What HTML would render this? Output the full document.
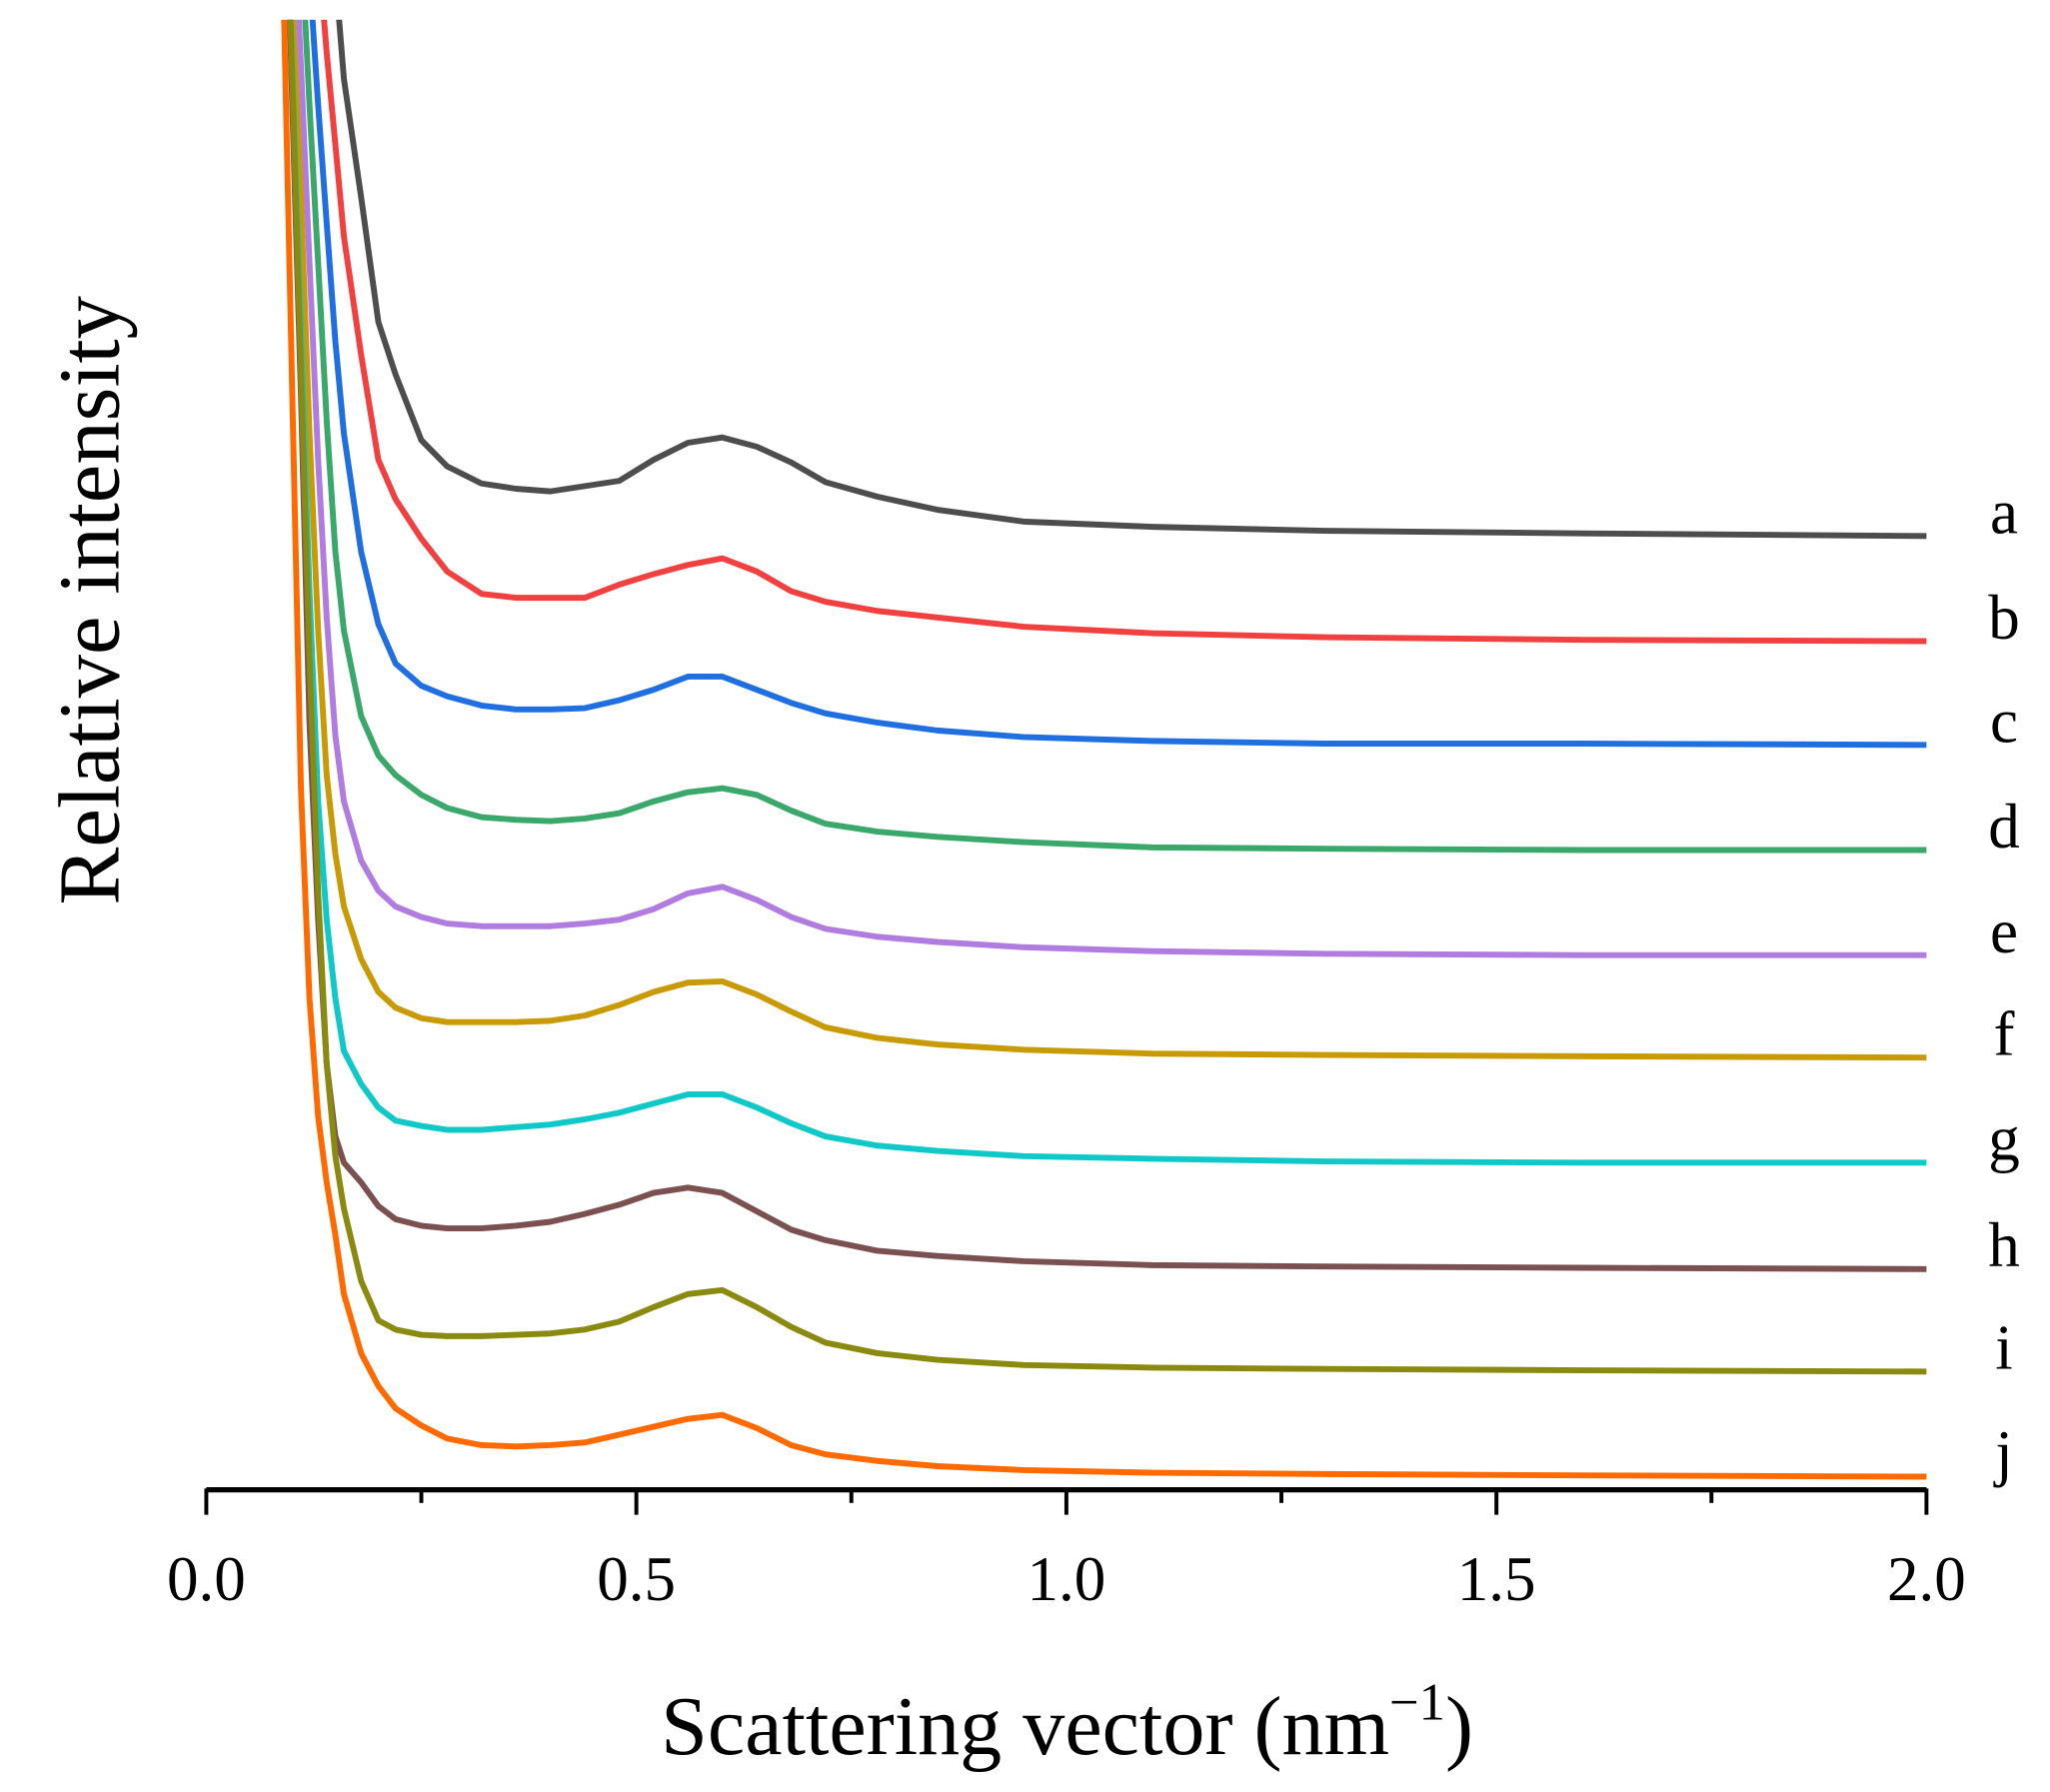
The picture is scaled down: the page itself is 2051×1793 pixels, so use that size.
<!DOCTYPE html>
<html><head><meta charset="utf-8"><style>
html,body{margin:0;padding:0;background:#fff;}
svg{display:block;font-family:"Liberation Serif",serif;}
</style></head><body>
<svg id="chart" width="2051" height="1793" viewBox="0 0 1560 1364" preserveAspectRatio="none" xmlns="http://www.w3.org/2000/svg">
<defs><clipPath id="plotclip"><rect x="150" y="15" width="1330" height="1125"/></clipPath></defs>
<g id="curves" clip-path="url(#plotclip)"></g>
<g id="axis"></g>
<g id="labels"></g>
<text x="812" y="1335" font-size="64" text-anchor="middle">Scattering vector (nm<tspan dy="-26" font-size="40">−1</tspan><tspan dy="26">)</tspan></text>
<text transform="translate(90,457) rotate(-90)" font-size="66" text-anchor="middle">Relative intensity</text>
</svg>
<script>
const q = [0.09,0.10,0.11,0.12,0.13,0.14,0.15,0.16,0.18,0.20,0.22,0.25,0.28,0.32,0.36,0.40,0.44,0.48,0.52,0.56,0.60,0.64,0.68,0.72,0.78,0.85,0.95,1.1,1.3,1.6,2.0];
const seriesNames = ["a","b","c","d","e","f","g","h","i","j"];
const seriesColors = ["#4d4d4d","#f04040","#1f6fe0","#3aa86a","#b07ce0","#c89a05","#10c8c8","#7a5050","#8a8a10","#ff6a00"];
const sA = [1333,1333,1333,1333,1333,1233,1153,1073,983,888,848,798,778,765,761,759,763,767,783,796,800,793,781,766,755,745,736,732,729,727,725];
const sB = [1333,1333,1333,1333,1173,1093,1023,953,863,783,753,723,698,681,678,678,678,688,696,703,708,698,683,675,668,663,656,651,648,646,645];
const sC = [1333,1333,1333,1153,1053,963,873,803,713,658,628,611,603,596,593,593,594,600,608,618,618,608,598,590,583,577,572,569,567,567,566];
const sD = [1333,1333,1183,1053,933,813,713,653,588,558,543,528,518,511,509,508,510,514,523,530,533,528,516,506,500,496,492,488,487,486,486];
const sE = [1333,1233,1083,933,783,663,573,523,478,455,443,435,430,428,428,428,430,433,441,453,458,448,435,426,420,416,412,409,407,406,406];
const sF = [1283,1133,983,803,653,543,483,443,403,378,366,358,355,355,355,356,360,368,378,385,386,376,363,351,343,338,334,331,330,329,328];
const sG = [1283,1083,883,683,523,433,373,333,308,290,280,276,273,273,275,277,281,286,293,300,300,290,278,268,261,257,253,251,249,248,248];
const sH = [1283,1053,833,583,433,323,268,248,233,215,205,200,198,198,200,203,209,216,225,229,225,211,197,189,181,177,173,170,169,168,167];
const sI = [1283,1073,853,633,453,323,253,213,158,128,121,117,116,116,117,118,121,127,138,148,151,138,123,111,103,98,94,92,91,90,89];
const sJ = [1133,833,533,373,283,233,193,148,103,78,61,48,38,33,32,33,35,41,47,53,56,46,33,26,21,17,14,12,11,10,9];
const allSeries = [sA,sB,sC,sD,sE,sF,sG,sH,sI,sJ];
const xTicks = [0.0,0.5,1.0,1.5,2.0];
const xTickLabels = ["0.0","0.5","1.0","1.5","2.0"];
const xMinor = [0.25,0.75,1.25,1.75];

const NS="http://www.w3.org/2000/svg";
const X0=157,X1=1466,Y0=1133;
function xs(v){return X0+(v-0)/(2.0-0)*(X1-X0);}
function ys(v){return Y0-v;}
const cg=document.getElementById('curves');
allSeries.forEach((s,k)=>{
  const p=document.createElementNS(NS,'path');
  p.setAttribute('d',s.map((v,i)=>(i?'L':'M')+xs(q[i]).toFixed(1)+' '+ys(v).toFixed(1)).join(''));
  p.setAttribute('fill','none');p.setAttribute('stroke',seriesColors[k]);
  p.setAttribute('stroke-width','4.5');p.setAttribute('stroke-linejoin','round');
  
  
  cg.appendChild(p);
});
const lg=document.getElementById('labels');
allSeries.forEach((s,k)=>{
  const t=document.createElementNS(NS,'text');
  t.setAttribute('x',1525);t.setAttribute('y',ys(s[s.length-1])-2);
  t.setAttribute('font-size','48');t.setAttribute('text-anchor','middle');
  t.textContent=seriesNames[k];
  
  
  lg.appendChild(t);
});
const ag=document.getElementById('axis');
const ln=document.createElementNS(NS,'line');
ln.setAttribute('x1',X0);ln.setAttribute('x2',X1);ln.setAttribute('y1',Y0+1);ln.setAttribute('y2',Y0+1);
ln.setAttribute('stroke','#000');ln.setAttribute('stroke-width','4');


ag.appendChild(ln);
xTicks.forEach((v,i)=>{
  const t=document.createElementNS(NS,'line');
  t.setAttribute('x1',xs(v));t.setAttribute('x2',xs(v));t.setAttribute('y1',Y0);t.setAttribute('y2',Y0+20);
  t.setAttribute('stroke','#000');t.setAttribute('stroke-width','3');
  
  
  ag.appendChild(t);
  const l=document.createElementNS(NS,'text');
  l.setAttribute('x',xs(v));l.setAttribute('y',1218);l.setAttribute('font-size','48');l.setAttribute('text-anchor','middle');
  l.textContent=xTickLabels[i];
  
  
  ag.appendChild(l);
});
xMinor.forEach(v=>{
  const t=document.createElementNS(NS,'line');
  t.setAttribute('x1',xs(v));t.setAttribute('x2',xs(v));t.setAttribute('y1',Y0);t.setAttribute('y2',Y0+11);
  t.setAttribute('stroke','#000');t.setAttribute('stroke-width','3');
  
  
  ag.appendChild(t);
});
</script>
</body></html>
